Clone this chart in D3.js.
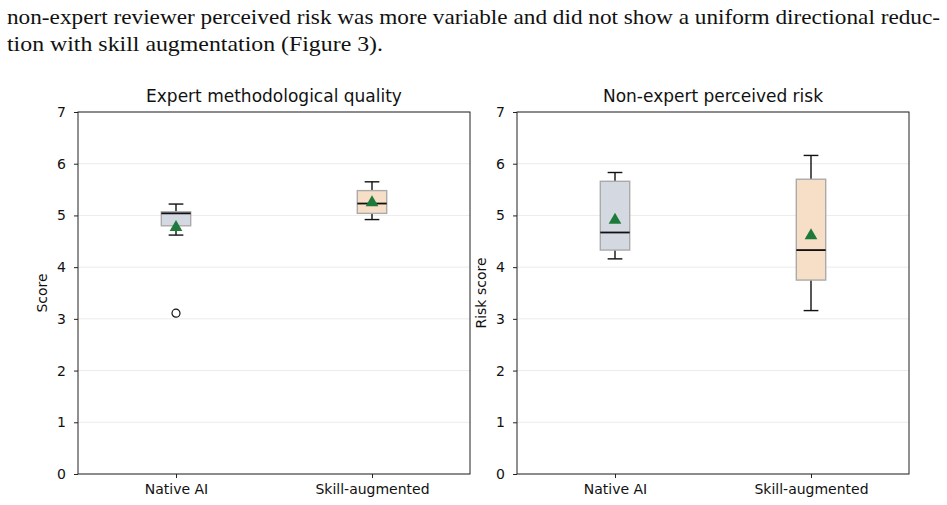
<!DOCTYPE html>
<html>
<head>
<meta charset="utf-8">
<script src="https://cdn.jsdelivr.net/npm/d3@7"></script>
<style>
  body { margin: 0; background: #fff; }
  svg text { font-family: "DejaVu Sans", sans-serif; }
</style>
</head>
<body>
<svg id="fig" width="947" height="505"></svg>
<script>
// paragraph text above the figure
var paraLines = [
    "non-expert reviewer perceived risk was more variable and did not show a uniform directional reduc-",
    "tion with skill augmentation (Figure 3)."
];

var categories = ["Native AI", "Skill-augmented"];
var panelTitles = ["Expert methodological quality", "Non-expert perceived risk"];
var yLabels = ["Score", "Risk score"];
var yTicks = [0, 1, 2, 3, 4, 5, 6, 7];

// expert panel (box stats)
var expertLow = [4.62, 4.92];
var expertQ1 = [4.80, 5.04];
var expertMedian = [5.04, 5.23];
var expertQ3 = [5.07, 5.48];
var expertHigh = [5.22, 5.65];
var expertMean = [4.77, 5.25];
var expertOutliers = [[3.11], []];

// non-expert panel
var riskLow = [4.16, 3.16];
var riskQ1 = [4.33, 3.75];
var riskMedian = [4.67, 4.33];
var riskQ3 = [5.66, 5.70];
var riskHigh = [5.83, 6.16];
var riskMean = [4.91, 4.61];
var riskOutliers = [[], []];

var boxColors = ["#d4d9e1", "#f6dfc6"];

var svg = d3.select("#fig");

svg.selectAll(".para")
    .data(paraLines)
    .enter().append("text")
    .attr("class", "para")
    .attr("x", 7)
    .attr("y", function (d, i) { return 24 + i * 27; })
    .style("font-family", "'Liberation Serif', serif")
    .style("font-size", "22px")
    .style("fill", "#111")
    .attr("textLength", function (d, i) { return i == 0 ? 933 : 376; })
    .attr("lengthAdjust", "spacingAndGlyphs")
    .text(function (d) { return d; });

var panels = [
    {left: 78, low: expertLow, q1: expertQ1, med: expertMedian, q3: expertQ3, high: expertHigh, mean: expertMean, out: expertOutliers},
    {left: 517, low: riskLow, q1: riskQ1, med: riskMedian, q3: riskQ3, high: riskHigh, mean: riskMean, out: riskOutliers}
];

var plotTop = 112,
    width = 392,
    height = 362;

panels.forEach(function (p, pi) {
    var g = svg.append("g")
        .attr("transform", "translate(" + p.left + "," + plotTop + ")");

    var x = d3.scalePoint()
        .domain(categories)
        .range([0, width])
        .padding(0.5);

    var y = d3.scaleLinear()
        .domain([0, 7])
        .range([height, 0]);

    var boxW = x.step() * 0.15;

    // grid
    g.selectAll(".grid")
        .data(yTicks)
        .enter().append("line")
        .attr("x1", 0).attr("x2", width)
        .attr("y1", function (d) { return y(d); })
        .attr("y2", function (d) { return y(d); })
        .style("stroke", "#e6e6e6")
        .style("stroke-width", 0.8);

    var rows = categories.map(function (c, i) {
        return {cat: c, i: i, low: p.low[i], q1: p.q1[i], med: p.med[i], q3: p.q3[i],
                high: p.high[i], mean: p.mean[i], out: p.out[i]};
    });

    var box = g.selectAll(".box")
        .data(rows)
        .enter().append("g")
        .attr("class", "box")
        .attr("transform", function (d) { return "translate(" + x(d.cat) + ",0)"; });

    // whiskers
    box.append("line")
        .attr("y1", function (d) { return y(d.low); })
        .attr("y2", function (d) { return y(d.q1); })
        .style("stroke", "#111").style("stroke-width", 1.4);
    box.append("line")
        .attr("y1", function (d) { return y(d.q3); })
        .attr("y2", function (d) { return y(d.high); })
        .style("stroke", "#111").style("stroke-width", 1.4);
    box.selectAll(".cap")
        .data(function (d) { return [d.low, d.high]; })
        .enter().append("line")
        .attr("x1", -boxW / 4).attr("x2", boxW / 4)
        .attr("y1", function (v) { return y(v); })
        .attr("y2", function (v) { return y(v); })
        .style("stroke", "#111").style("stroke-width", 1.4);

    box.append("rect")
        .attr("x", -boxW / 2)
        .attr("width", boxW)
        .attr("y", function (d) { return y(d.q3); })
        .attr("height", function (d) { return y(d.q1) - y(d.q3); })
        .style("fill", function (d) { return boxColors[d.i]; })
        .style("stroke", "#aaaaaa")
        .style("stroke-width", 1.4);

    box.append("line")
        .attr("x1", -boxW / 2).attr("x2", boxW / 2)
        .attr("y1", function (d) { return y(d.med); })
        .attr("y2", function (d) { return y(d.med); })
        .style("stroke", "#111").style("stroke-width", 1.8);

    box.selectAll(".outlier")
        .data(function (d) { return d.out; })
        .enter().append("circle")
        .attr("cx", 0)
        .attr("cy", function (v) { return y(v); })
        .attr("r", 4)
        .style("fill", "none")
        .style("stroke", "#111")
        .style("stroke-width", 1.2);

    box.append("path")
        .attr("d", d3.symbol().type(d3.symbolTriangle).size(70))
        .attr("transform", function (d) { return "translate(0," + y(d.mean) + ")"; })
        .style("fill", "#1e7a3a");

    // frame
    g.append("rect")
        .attr("width", width).attr("height", height)
        .style("fill", "none")
        .style("stroke", "#222")
        .style("stroke-width", 1);

    var yAxis = g.append("g")
        .call(d3.axisLeft(y).tickValues(yTicks).tickSize(4).tickPadding(8).tickFormat(d3.format("d")));
    var xAxis = g.append("g")
        .attr("transform", "translate(0," + height + ")")
        .call(d3.axisBottom(x).tickSize(4).tickPadding(6));
    [yAxis, xAxis].forEach(function (a) {
        a.select(".domain").remove();
        a.selectAll("text").style("font-size", "14px").style("fill", "#111")
            .style("font-family", "'DejaVu Sans', sans-serif");
        a.selectAll("line").style("stroke", "#222");
    });

    g.append("text")
        .attr("x", width / 2)
        .attr("y", -10)
        .attr("text-anchor", "middle")
        .style("font-size", "17px")
        .style("fill", "#111")
        .text(panelTitles[pi]);

    g.append("text")
        .attr("transform", "translate(-31," + height / 2 + ") rotate(-90)")
        .attr("text-anchor", "middle")
        .style("font-size", "14px")
        .style("fill", "#111")
        .text(yLabels[pi]);
});
</script>
</body>
</html>
